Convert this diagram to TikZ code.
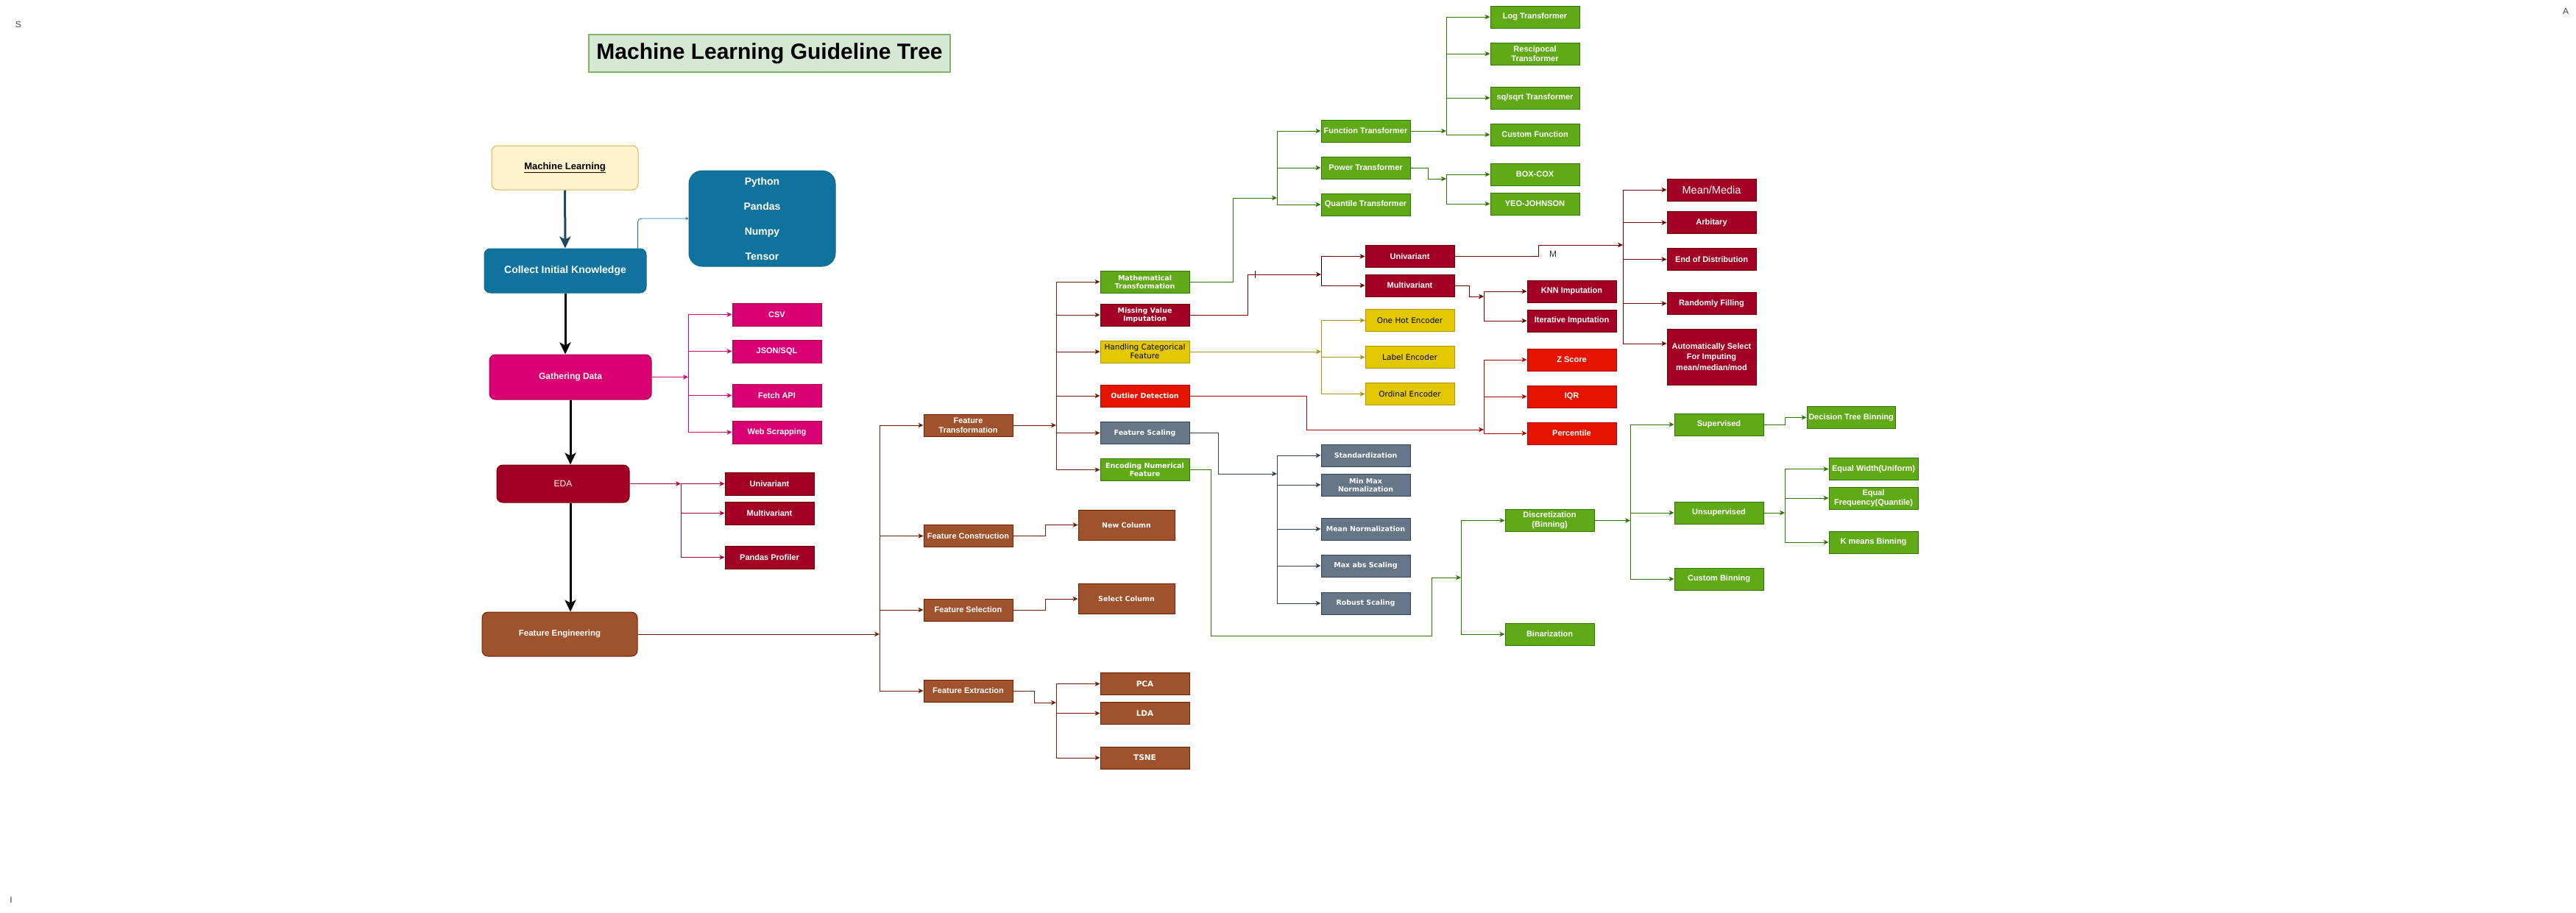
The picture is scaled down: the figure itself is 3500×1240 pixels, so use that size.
\documentclass[tikz,border=0pt]{standalone}
\usepackage{fontspec}
\setmainfont{Liberation Sans}
\newfontfamily\vfont{DejaVu Sans}
\usetikzlibrary{arrows.meta}

\definecolor{ctitle}{HTML}{D5E8D4}
\definecolor{ctitleD}{HTML}{82B366}
\definecolor{ccream}{HTML}{FFF2CC}
\definecolor{ccreamD}{HTML}{D6B656}
\definecolor{cteal}{HTML}{10739E}
\definecolor{ctealD}{HTML}{0E6A92}
\definecolor{cnavy}{HTML}{23445D}
\definecolor{cmag}{HTML}{D80073}
\definecolor{cmagD}{HTML}{A50040}
\definecolor{cwine}{HTML}{A20025}
\definecolor{cwineD}{HTML}{6F0000}
\definecolor{cbrown}{HTML}{A0522D}
\definecolor{cbrownD}{HTML}{6D1F00}
\definecolor{cgreen}{HTML}{60A917}
\definecolor{cgreenD}{HTML}{2D7600}
\definecolor{cyell}{HTML}{E3C800}
\definecolor{cyellD}{HTML}{B09500}
\definecolor{cred}{HTML}{E51400}
\definecolor{credD}{HTML}{B20000}
\definecolor{cslate}{HTML}{647687}
\definecolor{cslateD}{HTML}{314354}

\begin{document}
\begin{tikzpicture}[x=1pt,y=-1pt,
  arr/.style={-{Stealth[length=7pt,width=6.5pt,inset=2pt]},line width=0.9pt},
  bigarr/.style={-{Stealth[length=16pt,width=15pt,inset=4pt]},line width=3pt},
  elb/.style={to path={|- (\tikztotarget)}},
  leaf/.style={draw,line width=1pt,minimum width=121pt,minimum height=30pt,inner sep=1pt,align=center,text=white,font=\bfseries\fontsize{11}{13}\selectfont},
  vleaf/.style={leaf,font=\vfont\bfseries\fontsize{9.5}{11}\selectfont},
  yleaf/.style={leaf,fill=cyell,draw=cyellD,text=black,font=\vfont\fontsize{10.5}{12}\selectfont},
  mainbox/.style={draw,line width=1pt,rounded corners=8pt,align=center,text=white,font=\bfseries\fontsize{12}{14}\selectfont},
  corner/.style={text=black!75,font=\fontsize{12}{14}\selectfont,inner sep=0pt},
  fmag/.style={fill=cmag,draw=cmagD},
  fwine/.style={fill=cwine,draw=cwineD},
  fbrown/.style={fill=cbrown,draw=cbrownD},
  fgreen/.style={fill=cgreen,draw=cgreenD},
  fred/.style={fill=cred,draw=credD},
  fslate/.style={fill=cslate,draw=cslateD}]
\useasboundingbox (0,0) rectangle (3500,1240);

\node[corner] (cs) at (25,33) {S};
\node[corner] (ca) at (3486,15) {A};
\node[corner] (ci) at (15,1223) {I};

\node[draw=ctitleD,fill=ctitle,line width=1.2pt,minimum width=491pt,minimum height=51pt,font=\bfseries\fontsize{30}{34}\selectfont] (title) at (1045.5,72.5) {Machine Learning Guideline Tree};

% main stages
\node[mainbox,fill=ccream,draw=ccreamD,text=black,minimum width=199pt,minimum height=60pt,font=\bfseries\fontsize{13}{15}\selectfont] (ml) at (767.5,228) {\underline{Machine Learning}};
\node[mainbox,fill=cteal,draw=ctealD,minimum width=220pt,minimum height=60pt,font=\bfseries\fontsize{14}{16}\selectfont] (cik) at (768,368) {Collect Initial Knowledge};
\node[mainbox,fill=cteal,draw=ctealD,rounded corners=18pt,minimum width=199pt,minimum height=130pt,font=\bfseries\fontsize{14}{34}\selectfont] (lib) at (1035.5,297) {Python\\Pandas\\Numpy\\Tensor};
\node[mainbox,fmag,minimum width=220pt,minimum height=61pt] (gd) at (775,512.5) {Gathering Data};
\node[mainbox,fwine,minimum width=180pt,minimum height=51pt,font=\fontsize{12}{14}\selectfont] (eda) at (765,657.5) {EDA};
\node[mainbox,fbrown,minimum width=211pt,minimum height=60pt,font=\bfseries\fontsize{11.5}{14}\selectfont] (fe) at (760.5,862) {Feature Engineering};

\node[leaf,fmag,minimum height=31pt] (csv) at (1055.5,427.5) {CSV};
\node[leaf,fmag,minimum height=31pt] (json) at (1055.5,477.5) {JSON/SQL};
\node[leaf,fmag,minimum height=31pt] (fetch) at (1055.5,537.5) {Fetch API};
\node[leaf,fmag,minimum height=31pt] (web) at (1055.5,587.5) {Web Scrapping};

\node[leaf,fwine,minimum height=31pt] (euni) at (1045.5,657.5) {Univariant};
\node[leaf,fwine,minimum height=31pt] (emul) at (1045.5,697.5) {Multivariant};
\node[leaf,fwine,minimum height=31pt] (eprof) at (1045.5,757.5) {Pandas Profiler};

% feature engineering
\node[leaf,fbrown] (ft) at (1315.5,578) {Feature\\Transformation};
\node[leaf,fbrown] (fc) at (1315.5,728.5) {Feature Construction};
\node[leaf,fbrown] (fs) at (1315.5,829) {Feature Selection};
\node[leaf,fbrown] (fx) at (1315.5,939) {Feature Extraction};
\node[vleaf,fbrown,minimum width=131pt,minimum height=41pt] (nc) at (1530.5,713.5) {New Column};
\node[vleaf,fbrown,minimum width=131pt,minimum height=41pt] (sc) at (1530.5,814) {Select Column};
\node[vleaf,fbrown,font=\vfont\bfseries\fontsize{10.5}{12}\selectfont] (pca) at (1555.5,929.5) {PCA};
\node[vleaf,fbrown,font=\vfont\bfseries\fontsize{10.5}{12}\selectfont] (lda) at (1555.5,969.5) {LDA};
\node[vleaf,fbrown,font=\vfont\bfseries\fontsize{10.5}{12}\selectfont] (tsne) at (1555.5,1030) {TSNE};

\node[vleaf,fgreen] (mt) at (1555.5,383) {Mathematical\\Transformation};
\node[vleaf,fwine] (mvi) at (1555.5,428) {Missing Value\\Imputation};
\node[yleaf] (hcf) at (1555.5,478) {Handling Categorical\\Feature};
\node[vleaf,fred] (od) at (1555.5,538) {Outlier Detection};
\node[vleaf,fslate] (fsc) at (1555.5,588.5) {Feature Scaling};
\node[vleaf,fgreen] (enf) at (1555.5,638.5) {Encoding Numerical\\Feature};

\node[leaf,fgreen] (ftr) at (1855.5,178) {Function Transformer};
\node[leaf,fgreen] (ptr) at (1855.5,228) {Power Transformer};
\node[leaf,fgreen] (qtr) at (1855.5,278) {Quantile Transformer};
\node[leaf,fgreen] (log) at (2085.5,23) {Log Transformer};
\node[leaf,fgreen] (rec) at (2085.5,73) {Rescipocal\\Transformer};
\node[leaf,fgreen] (sq) at (2085.5,133) {sq/sqrt Transformer};
\node[leaf,fgreen] (cf) at (2085.5,183) {Custom Function};
\node[leaf,fgreen] (bc) at (2085.5,237) {BOX-COX};
\node[leaf,fgreen] (yj) at (2085.5,277) {YEO-JOHNSON};

\node[leaf,fwine] (muni) at (1915.5,348.5) {Univariant};
\node[leaf,fwine] (mmul) at (1915.5,388) {Multivariant};
\node[leaf,fwine] (knn) at (2135.5,396) {KNN Imputation};
\node[leaf,fwine] (iti) at (2135.5,436) {Iterative Imputation};
\node[leaf,fwine,font=\fontsize{14.5}{16}\selectfont] (mm) at (2325.5,258) {Mean/Media};
\node[leaf,fwine] (arb) at (2325.5,302.5) {Arbitary};
\node[leaf,fwine] (eod) at (2325.5,352.5) {End of Distribution};
\node[leaf,fwine] (rf) at (2325.5,412.5) {Randomly Filling};
\node[leaf,fwine,minimum height=76pt,font=\bfseries\fontsize{11}{14.5}\selectfont] (auto) at (2325.5,485) {Automatically Select\\For Imputing\\mean/median/mod};
\node[text=black!80,font=\fontsize{12}{14}\selectfont,inner sep=0pt] (mlab) at (2110,345) {M};

\node[yleaf] (ohe) at (1915.5,435.5) {One Hot Encoder};
\node[yleaf] (le) at (1915.5,485.5) {Label Encoder};
\node[yleaf] (ore) at (1915.5,535.5) {Ordinal Encoder};

\node[leaf,fred] (zs) at (2135.5,489) {Z Score};
\node[leaf,fred] (iqr) at (2135.5,539) {IQR};
\node[leaf,fred] (pct) at (2135.5,589) {Percentile};

\node[vleaf,fslate] (std) at (1855.5,619) {Standardization};
\node[vleaf,fslate] (mmn) at (1855.5,659) {Min Max\\Normalization};
\node[vleaf,fslate] (mn) at (1855.5,719) {Mean Normalization};
\node[vleaf,fslate] (mas) at (1855.5,769) {Max abs Scaling};
\node[vleaf,fslate] (rs) at (1855.5,820) {Robust Scaling};

\node[leaf,fgreen] (disc) at (2105.5,707.5) {Discretization\\(Binning)};
\node[leaf,fgreen] (bin) at (2105.5,862) {Binarization};
\node[leaf,fgreen] (sup) at (2335.5,577) {Supervised};
\node[leaf,fgreen] (uns) at (2335.5,697) {Unsupervised};
\node[leaf,fgreen] (cb) at (2335.5,787) {Custom Binning};
\node[leaf,fgreen,minimum width=120pt] (dtb) at (2515,567.5) {Decision Tree Binning};
\node[leaf,fgreen] (ew) at (2545.5,637.5) {Equal Width(Uniform)};
\node[leaf,fgreen] (ef) at (2545.5,677) {Equal\\Frequency(Quantile)};
\node[leaf,fgreen] (km) at (2545.5,737) {K means Binning};

% junctions
\coordinate (jgd) at (935,512.5);
\coordinate (jeda) at (925,657.5);
\coordinate (jfe) at (1195,862);
\coordinate (jft) at (1435,578);
\coordinate (jfx) at (1435,955);
\coordinate (jmt) at (1735,269);
\coordinate (jftr) at (1965,178);
\coordinate (jptr) at (1965,243);
\coordinate (jmvi) at (1795,373);
\coordinate (jmuni) at (2205,333);
\coordinate (jmmul) at (2016,403);
\coordinate (jhcf) at (1795,478);
\coordinate (jod) at (2016,584);
\coordinate (jfsc) at (1735,644);
\coordinate (jenf) at (1985,785);
\coordinate (jdisc) at (2215,707.5);
\coordinate (juns) at (2425,697);

\draw[bigarr,cnavy] (ml) -- (cik);
\draw[bigarr] (cik.south) -- (cik.south |- gd.north);
\draw[bigarr] (gd.south) -- (gd.south |- eda.north);
\draw[bigarr] (eda.south -| gd.south) -- (fe.north -| gd.south);
\draw[-{Stealth[length=4pt,width=4pt]},cteal,line width=0.9pt,rounded corners=5pt] ([xshift=-12pt]cik.north east) |- (lib.west);

\path[arr,cmag] (gd.east) edge (jgd)
  (jgd) edge[elb] (csv) edge[elb] (json) edge[elb] (fetch) edge[elb] (web);
\path[arr,cmagD] (eda.east) edge (jeda)
  (jeda) edge[elb] (euni) edge[elb] (emul) edge[elb] (eprof);
\path[arr,cbrownD] (fe.east) edge (jfe)
  (jfe) edge[elb] (ft) edge[elb] (fc) edge[elb] (fs) edge[elb] (fx)
  (ft.east) edge (jft)
  (jft) edge[elb] (mt) edge[elb] (mvi) edge[elb] (hcf) edge[elb] (od) edge[elb] (fsc) edge[elb] (enf)
  (jfx) edge[elb] (pca) edge[elb] (lda) edge[elb] (tsne);
\draw[arr,cbrownD] (fc.east) -- ++(44,0) |- (nc);
\draw[arr,cbrownD] (fs.east) -- ++(44,0) |- (sc);
\draw[arr,cbrownD] (fx.east) -- ++(29,0) |- (jfx);

\draw[arr,cgreenD] (mt.east) -- ++(59,0) |- (jmt);
\path[arr,cgreenD] (jmt) edge[elb] (ftr) edge[elb] (ptr) edge[elb] (qtr)
  (ftr.east) edge (jftr)
  (jftr) edge[elb] (log) edge[elb] (rec) edge[elb] (sq) edge[elb] (cf)
  (jptr) edge[elb] (bc) edge[elb] (yj);
\draw[arr,cgreenD] (ptr.east) -- ++(24,0) |- (jptr);

\draw[arr,cwineD] (mvi.east) -- ++(79,0) |- (jmvi);
\draw[cwineD,line width=0.9pt] (jmvi) ++(-90,-5) -- ++(0,10);
\path[arr,cwineD] (jmvi) edge[elb] (muni) edge[elb] (mmul)
  (jmmul) edge[elb] (knn) edge[elb] (iti)
  (jmuni) edge[elb] (mm) edge[elb] (arb) edge[elb] (eod) edge[elb] (rf) edge[elb] ([yshift=18pt]auto.west);
\draw[line width=0.9pt] (jmvi |- muni.west) -- (jmvi |- mmul.west);
\draw[arr,cwineD] (muni.east) -- ++(114,0) |- (jmuni);
\draw[arr,cwineD] (mmul.east) -- ++(20,0) |- (jmmul);

\path[arr,cyellD] (hcf.east) edge (jhcf)
  (jhcf) edge[elb] (ohe) edge[elb] (le) edge[elb] (ore);

\draw[arr,credD] (od.east) -- ++(159,0) |- (jod);
\path[arr,credD] (jod) edge[elb] (zs) edge[elb] (iqr) edge[elb] (pct);

\draw[arr,cslateD] (fsc.east) -- ++(39,0) |- (jfsc);
\path[arr,cslateD] (jfsc) edge[elb] (std) edge[elb] (mmn) edge[elb] (mn) edge[elb] (mas) edge[elb] (rs);

\draw[arr,cgreenD] (enf.east) -- ++(29,0) |- ++(300,226) |- (jenf);
\path[arr,cgreenD] (jenf) edge[elb] (disc) edge[elb] (bin)
  (disc.east) edge (jdisc)
  (jdisc) edge[elb] (sup) edge[elb] (uns) edge[elb] (cb)
  (uns.east) edge (juns)
  (juns) edge[elb] (ew) edge[elb] (ef) edge[elb] (km);
\draw[arr,cgreenD] (sup.east) -- ++(29,0) |- (dtb);
\end{tikzpicture}
\end{document}
